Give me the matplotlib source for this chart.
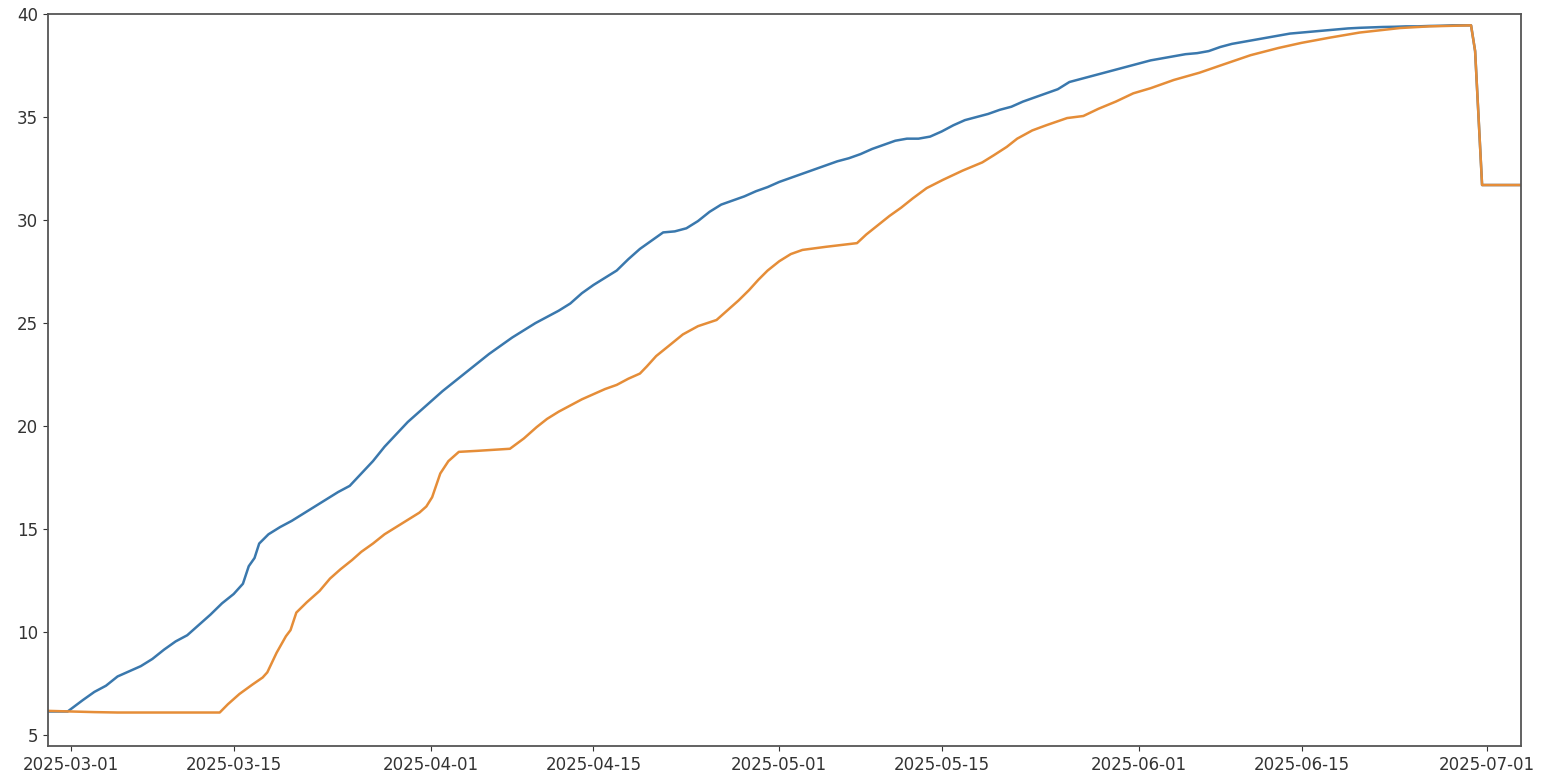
import matplotlib
matplotlib.use("Agg")
import matplotlib.pyplot as plt
import matplotlib.dates as mdates
import pandas as pd

start = pd.Timestamp("2025-03-01")

# day offsets from 2025-03-01 and the values
blue_days = [-2, -1, -0.3, 1, 2, 3, 4, 5, 6, 7, 8, 9, 10, 11, 12, 13, 14, 14.8, 15.3, 15.8,
             16.2, 17, 18, 19, 20, 21, 22, 23, 24, 25, 26, 27, 28, 29, 30, 31, 32, 33, 34,
             35, 36, 37, 38, 39, 40, 41, 42, 43, 44, 45, 46, 47, 48, 49, 50, 51, 52, 53, 54,
             55, 56, 57, 58, 59, 60, 61, 62, 63, 64, 65, 66, 67, 68, 69, 70, 71, 72, 73, 74,
             75, 76, 77, 78, 79, 80, 81, 82, 83, 84, 85, 86, 87, 88, 89, 90, 91, 92, 93, 94,
             95, 96, 97, 98, 99, 100, 101, 102, 103, 104, 105, 106, 107, 108, 109, 110, 111,
             112, 113, 114, 115, 116, 117, 118, 119, 120.6, 120.95, 121.55, 124.9]
blue_vals = [6.15, 6.15, 6.15, 6.7, 7.1, 7.4, 7.85, 8.1, 8.35, 8.7, 9.15, 9.55, 9.85, 10.35,
             10.85, 11.4, 11.85, 12.35, 13.2, 13.6, 14.3, 14.75, 15.1, 15.4, 15.75, 16.1,
             16.45, 16.8, 17.1, 17.7, 18.3, 19.0, 19.6, 20.2, 20.7, 21.2, 21.7, 22.15, 22.6,
             23.05, 23.5, 23.9, 24.3, 24.65, 25.0, 25.3, 25.6, 25.95, 26.45, 26.85, 27.2,
             27.55, 28.1, 28.6, 29.0, 29.4, 29.45, 29.6, 29.95, 30.4, 30.75, 30.95, 31.15,
             31.4, 31.6, 31.85, 32.05, 32.25, 32.45, 32.65, 32.85, 33.0, 33.2, 33.45, 33.65,
             33.85, 33.95, 33.95, 34.05, 34.3, 34.6, 34.85, 35.0, 35.15, 35.35, 35.5, 35.75,
             35.95, 36.15, 36.35, 36.7, 36.85, 37.0, 37.15, 37.3, 37.45, 37.6, 37.75, 37.85,
             37.95, 38.05, 38.1, 38.2, 38.4, 38.55, 38.65, 38.75, 38.85, 38.95, 39.05, 39.1,
             39.15, 39.2, 39.25, 39.3, 39.33, 39.35, 39.37, 39.38, 39.4, 39.4, 39.42, 39.43,
             39.45, 39.45, 38.2, 31.7, 31.7]

orange_days = [-2, 0, 2, 4, 8, 12.8, 13.5, 14.5, 15.6, 16.5, 16.9, 17.7, 18.5, 18.9, 19.4,
               20.3, 21.4, 22.3, 23.2, 24.2, 25, 26, 27, 28, 29, 30, 30.6, 31.1, 31.8, 32.5,
               33.4, 35, 37.8, 39, 40.1, 41, 42, 43, 44, 45, 46, 47, 48, 49, 49.6, 50.4, 51.5,
               52.7, 54, 55.6, 56.5, 57.5, 58.4, 59.2, 60, 61, 62, 63, 65, 67.7, 68.5, 69.5,
               70.5, 71.5, 72.5, 73.7, 75.1, 76.8, 78.5, 79.5, 80.6, 81.5, 82.8, 84, 85.8,
               87.2, 88.5, 90, 91.5, 93, 95, 97.2, 99, 101.6, 104, 106, 108.4, 111, 114.5,
               117, 120.6, 120.95, 121.55, 124.9]
orange_vals = [6.18, 6.15, 6.12, 6.1, 6.1, 6.1, 6.5, 7.0, 7.45, 7.8, 8.05, 9.0, 9.8, 10.1,
               10.95, 11.45, 12.0, 12.6, 13.05, 13.5, 13.9, 14.3, 14.75, 15.1, 15.45, 15.8,
               16.1, 16.55, 17.7, 18.3, 18.75, 18.8, 18.9, 19.4, 19.95, 20.35, 20.7, 21.0,
               21.3, 21.55, 21.8, 22.0, 22.3, 22.55, 22.9, 23.4, 23.9, 24.45, 24.85, 25.15,
               25.6, 26.1, 26.6, 27.1, 27.55, 28.0, 28.35, 28.55, 28.7, 28.88, 29.3, 29.75,
               30.2, 30.6, 31.05, 31.55, 31.95, 32.4, 32.8, 33.15, 33.55, 33.95, 34.35, 34.6,
               34.95, 35.05, 35.4, 35.75, 36.15, 36.4, 36.8, 37.15, 37.5, 38.0, 38.35, 38.6,
               38.85, 39.1, 39.32, 39.4, 39.45, 38.2, 31.7, 31.7]

blue_dates = start + pd.to_timedelta(blue_days, unit="D")
orange_dates = start + pd.to_timedelta(orange_days, unit="D")

fig = plt.figure(figsize=(15.41, 7.78), dpi=100)
ax = fig.add_axes([0.0311, 0.041, 0.9559, 0.941])

ax.plot(blue_dates, blue_vals, color="#3a78ad", lw=1.8)
ax.plot(orange_dates, orange_vals, color="#e58d38", lw=1.8)

ax.set_xlim(blue_dates[0], blue_dates[-1])
ax.set_ylim(4.47, 40)
ax.set_yticks([5, 10, 15, 20, 25, 30, 35, 40])

ticks = pd.to_datetime(["2025-03-01", "2025-03-15", "2025-04-01", "2025-04-15", "2025-05-01",
                        "2025-05-15", "2025-06-01", "2025-06-15", "2025-07-01"])
ax.set_xticks(ticks)
ax.xaxis.set_major_formatter(mdates.DateFormatter("%Y-%m-%d"))
ax.tick_params(labelsize=12, colors="#333333")

for s in ax.spines.values():
    s.set_color("#555555")
    s.set_linewidth(1.3)

fig.savefig("out.png", dpi=100)
